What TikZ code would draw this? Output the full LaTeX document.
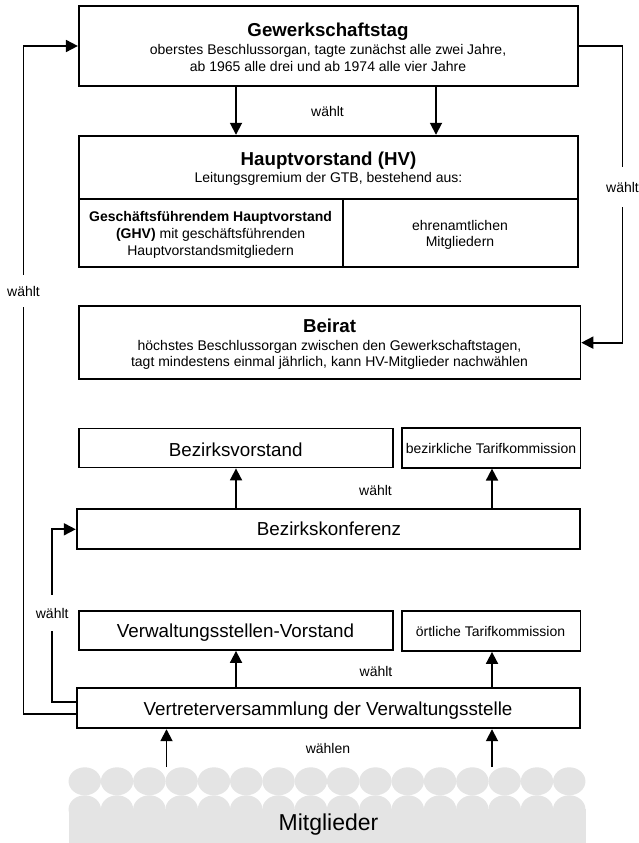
\documentclass[tikz,border=0pt]{standalone}
\usepackage{fontspec}
\setmainfont{Liberation Sans}
\usetikzlibrary{arrows.meta}
\definecolor{mgray}{RGB}{228,228,228}
\begin{document}
\begin{tikzpicture}[x=1pt,y=-1pt,
  box/.style={draw, line width=1.8pt, inner sep=0pt},
  txt/.style={anchor=base, inner sep=0pt, font=\fontsize{14}{16.8}\selectfont},
  mid/.style={anchor=base, inner sep=0pt, font=\fontsize{18.8}{22}\selectfont},
  ttl/.style={anchor=base, inner sep=0pt, font=\fontsize{18.7}{22}\selectfont\bfseries},
  lbl/.style={anchor=base, inner xsep=0pt, font=\fontsize{14}{16.8}\selectfont},
  conn/.style={line width=1.8pt},
  arr/.style={line width=1.8pt, -{Triangle[length=12pt,width=12pt]}},
]
\useasboundingbox (0,0) rectangle (638,843);

% --- Mitglieder base ---
\foreach \i in {0,...,15}{
  \fill[mgray] (84.75+32.3*\i,781.3) ellipse [x radius=16.2, y radius=14];
  \fill[mgray] (84.75+32.3*\i,809.3) ellipse [x radius=16.2, y radius=14];
}
\node[fill=mgray, inner sep=0pt, minimum width=517.1pt, minimum height=34pt] (mg) at (327.15,826) {};
\node[anchor=base, inner sep=0pt, font=\fontsize{23}{27}\selectfont] (mgt) at (328.5,830) {Mitglieder};
\coordinate (mgtop) at (0,767);

% --- boxes ---
\node[box, minimum width=498.8pt, minimum height=80pt] (gt) at (328.2,46) {};
\node[box, minimum width=498.8pt, minimum height=63.3pt] (hvtop) at (328.2,167.35) {};
\node[box, minimum width=264.2pt, minimum height=67.7pt] (hvl) at (210.9,232.85) {};
\node[box, minimum width=234.6pt, minimum height=67.7pt] (hvr) at (460.3,232.85) {};
\node[box, minimum width=501.6pt, minimum height=73.3pt] (br) at (329.6,342.65) {};
\node[box, minimum width=313.9pt, minimum height=39pt] (bv) at (235.75,448) {};
\node[box, minimum width=178.4pt, minimum height=40pt] (bt) at (491.2,447.7) {};
\node[box, minimum width=503.3pt, minimum height=40pt] (bk) at (328.35,529.3) {};
\node[box, minimum width=314.2pt, minimum height=39pt] (vsv) at (235.9,630.5) {};
\node[box, minimum width=178.4pt, minimum height=40pt] (ot) at (491.2,631) {};
\node[box, minimum width=502.9pt, minimum height=40.6pt] (vv) at (328.15,708) {};

% --- texts ---
\node[ttl] (gt1) at (328,36.7) {Gewerkschaftstag};
\node[txt] (gt2) at (328,54.3) {oberstes Beschlussorgan, tagte zunächst alle zwei Jahre,};
\node[txt] (gt3) at (328,71) {ab 1965 alle drei und ab 1974 alle vier Jahre};
\node[ttl] (hv1) at (328.5,165.7) {Hauptvorstand (HV)};
\node[txt] (hv2) at (328.5,182.7) {Leitungsgremium der GTB, bestehend aus:};
\node[txt] (hvl1) at (210.6,221.7) {\bfseries Geschäftsführendem Hauptvorstand};
\node[txt] (hvl2) at (210.6,238.7) {\textbf{(GHV)} mit geschäftsführenden};
\node[txt] (hvl3) at (210.6,255) {Hauptvorstandsmitgliedern};
\node[txt] (hvr1) at (460,230) {ehrenamtlichen};
\node[txt] (hvr2) at (460,246.7) {Mitgliedern};
\node[ttl] (br1) at (329.5,332.3) {Beirat};
\node[txt] (br2) at (329.5,350) {höchstes Beschlussorgan zwischen den Gewerkschaftstagen,};
\node[txt] (br3) at (329.5,366.7) {tagt mindestens einmal jährlich, kann HV-Mitglieder nachwählen};
\node[mid] (bv1) at (235.7,456.7) {Bezirksvorstand};
\node[txt] (bt1) at (491,453.3) {bezirkliche Tarifkommission};
\node[mid] (bk1) at (329,535) {Bezirkskonferenz};
\node[mid] (vsv1) at (235.5,637.3) {Verwaltungsstellen-Vorstand};
\node[txt] (ot1) at (490.5,636) {örtliche Tarifkommission};
\node[mid] (vv1) at (328,715) {Vertreterversammlung der Verwaltungsstelle};

% --- labels ---
\node[txt] (w1) at (327.5,116.7) {wählt};
\node[txt] (w2) at (375.5,495) {wählt};
\node[txt] (w3) at (376,676.7) {wählt};
\node[txt] (w4) at (328,753.3) {wählen};
\node[lbl, inner ysep=11pt] (wl) at (23.5,296) {wählt};
\node[lbl, inner ysep=15pt] (wr) at (622.5,192) {wählt};
\node[lbl, inner ysep=13pt] (wb) at (52.2,618) {wählt};

% --- x positions ---
\coordinate (xa) at (236,0);
\coordinate (xb) at (436,0);
\coordinate (xc) at (492,0);
\coordinate (xd) at (166.5,0);

% --- connectors ---
\draw[arr] (gt.south -| xa) -- (hvtop.north -| xa);
\draw[arr] (gt.south -| xb) -- (hvtop.north -| xb);
\draw[arr] (bk.north -| xa) -- (bv.south -| xa);
\draw[arr] (bk.north -| xc) -- (bt.south -| xc);
\draw[arr] (vv.north -| xa) -- (vsv.south -| xa);
\draw[arr] (vv.north -| xc) -- (ot.south -| xc);
\draw[arr] (mgtop -| xd) -- (vv.south -| xd);
\draw[arr] (mgtop -| xc) -- (vv.south -| xc);

\draw[conn] ([yshift=-6.3pt]vv.west) -| (wl.south);
\draw[arr] (wl.north) |- (gt.west);
\draw[conn] (gt.east) -| (wr.north);
\draw[arr] (wr.south) |- (br.east);
\draw[conn] ([yshift=6.3pt]vv.west) -| (wb.south);
\draw[arr] (wb.north) |- (bk.west);
\end{tikzpicture}
\end{document}
